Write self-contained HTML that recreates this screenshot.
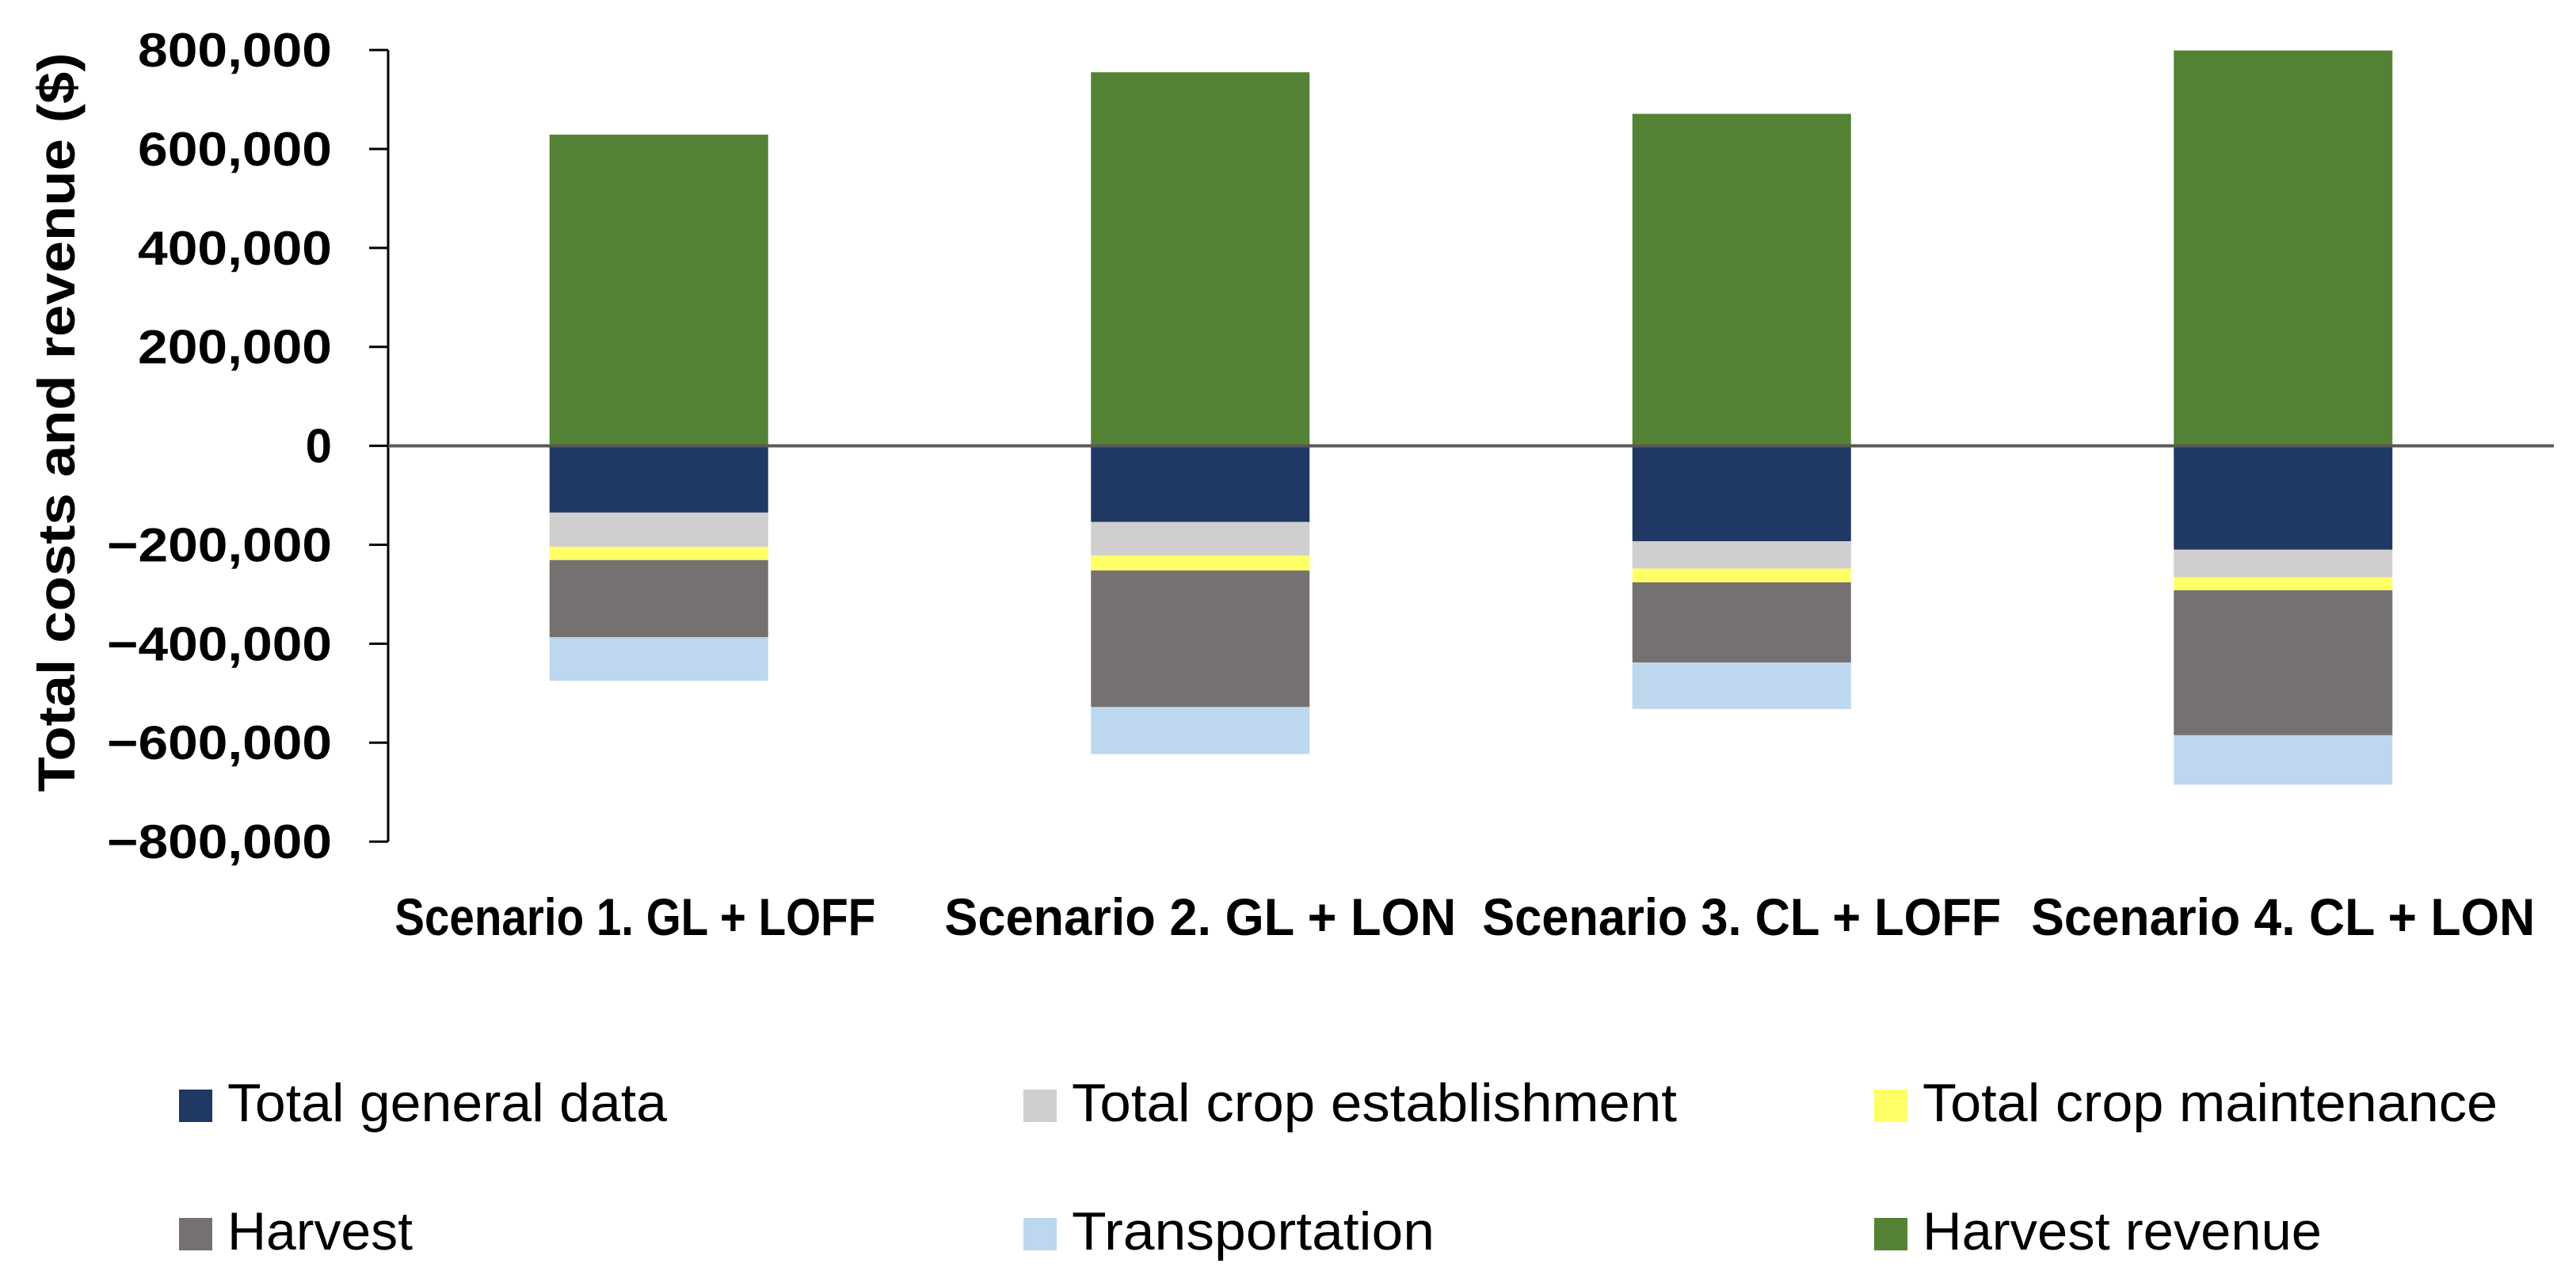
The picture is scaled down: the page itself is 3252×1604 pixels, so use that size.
<!DOCTYPE html>
<html><head><meta charset="utf-8"><style>
html,body{margin:0;padding:0;background:#fff}
svg{display:block}
text{font-family:"Liberation Sans",sans-serif;fill:#000}
</style></head><body>
<svg id="chart" width="3252" height="1604" viewBox="0 0 3252 1604" xmlns="http://www.w3.org/2000/svg">
<text transform="translate(94,533) rotate(-90)" text-anchor="middle" font-size="66" font-weight="bold" textLength="933" lengthAdjust="spacingAndGlyphs">Total costs and revenue ($)</text>
<g id="plot"></g>
</svg>
<script>
const categories = ["Scenario 1. GL + LOFF","Scenario 2. GL + LON","Scenario 3. CL + LOFF","Scenario 4. CL + LON"];
const seriesNames = ["Total general data","Total crop establishment","Total crop maintenance","Harvest","Transportation","Harvest revenue"];
const generalData = [-135000,-154000,-193000,-210000];
const cropEstablishment = [-69000,-68000,-55000,-56000];
const cropMaintenance = [-27000,-30000,-28000,-26000];
const harvest = [-156000,-276000,-162000,-293000];
const transportation = [-88000,-95000,-94000,-100000];
const harvestRevenue = [629000,755000,671000,799000];
const yTicks = [800000,600000,400000,200000,0,-200000,-400000,-600000,-800000];
const yTickLabels = ["800,000","600,000","400,000","200,000","0","\u2212200,000","\u2212400,000","\u2212600,000","\u2212800,000"];

const colors = ["#203864","#D0CECE","#FFFF66","#767171","#BDD7EE","#548235"];
const NS = "http://www.w3.org/2000/svg";
const g = document.getElementById("plot");
const plotLeft = 490, plotRight = 3224, y0 = 562.6, pxPerUnit = 499.5/800000;
const catW = (plotRight - plotLeft)/categories.length, barW = 276;
function y(v){ return y0 - v*pxPerUnit; }
function xc(i){ return plotLeft + catW*(i+0.5); }
function mk(tag, attrs){ const e=document.createElementNS(NS,tag); for(const k in attrs) e.setAttribute(k,attrs[k]); g.appendChild(e); return e; }

let ax = mk("line",{x1:plotLeft,x2:plotLeft,y1:y(800000),y2:y(-800000),stroke:"#000","stroke-width":3});


yTicks.forEach((v,i)=>{
  const t = mk("line",{x1:plotLeft-24,x2:plotLeft,y1:y(v),y2:y(v),stroke:"#000","stroke-width":3});
  
  
  const tx = mk("text",{x:419,y:y(v)+21,"text-anchor":"end","font-size":60,"font-weight":"bold"});
  if (yTickLabels[i].length>1){ tx.setAttribute("textLength", yTickLabels[i].startsWith("\u2212")?284:245); tx.setAttribute("lengthAdjust","spacingAndGlyphs"); }
  tx.textContent = yTickLabels[i];
  
  
});

const negSeries = [generalData,cropEstablishment,cropMaintenance,harvest,transportation];
categories.forEach((c,i)=>{
  let base = 0;
  negSeries.forEach((s,k)=>{
    const top = base, bot = base + s[i];
    const r = mk("rect",{x:xc(i)-barW/2,y:y(top),width:barW,height:y(bot)-y(top),fill:colors[k]});
    
    
    base = bot;
  });
  const r = mk("rect",{x:xc(i)-barW/2,y:y(harvestRevenue[i]),width:barW,height:y(0)-y(harvestRevenue[i]),fill:colors[5]});
  
  
});
const catLens=[607,646,655,636];
const catShift=[-30,0,0,0];
categories.forEach((c,i)=>{
  const t = mk("text",{x:xc(i)+catShift[i],y:1180,"text-anchor":"middle","font-size":66,"font-weight":"bold",textLength:catLens[i],lengthAdjust:"spacingAndGlyphs"});
  t.textContent = c;
  
  
});
let zl = mk("line",{x1:plotLeft,x2:plotRight,y1:y(0),y2:y(0),stroke:"#595959","stroke-width":4});



const legX=[226,1292,2366], legY=[1375,1537];
const legLens=[555,764,726,234,458,504];
seriesNames.forEach((n,k)=>{
  const cx = legX[k%3], ry = legY[Math.floor(k/3)];
  const sw = mk("rect",{x:cx,y:ry,width:42,height:41,fill:colors[k]});
  
  
  const t = mk("text",{x:cx+61,y:ry+40,"font-size":68,textLength:legLens[k],lengthAdjust:"spacingAndGlyphs"});
  t.textContent = n;
  
  
});
</script>
</body></html>
